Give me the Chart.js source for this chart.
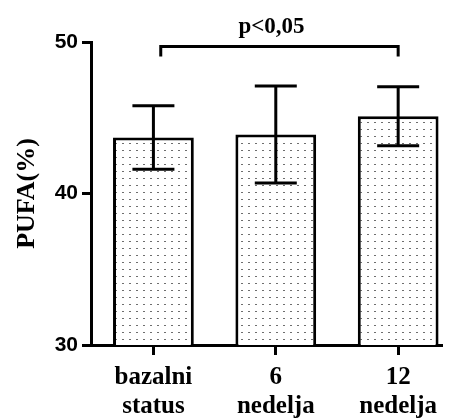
<!DOCTYPE html>
<html>
<head>
<meta charset="utf-8">
<script src="https://cdn.jsdelivr.net/npm/chart.js@4.4.1/dist/chart.umd.min.js"></script>
<style>
  html, body { margin: 0; padding: 0; background: #fff; overflow: hidden; }
  canvas { display: block; }
</style>
</head>
<body>
<canvas id="pufaChart" width="455" height="419"></canvas>
<script>
const CATEGORIES = [['bazalni', 'status'], ['6', 'nedelja'], ['12', 'nedelja']];
const PUFA_MEAN = [43.7, 43.9, 45.1];
const PUFA_SD = [2.1, 3.2, 1.95];
const Y_MIN = 30;
const Y_MAX = 50;
const Y_STEP = 10;
const SIGNIFICANCE = { from: 0, to: 2, label: 'p<0,05' };

function makeDotPattern() {
  const tile = document.createElement('canvas');
  tile.width = 7;
  tile.height = 7;
  const t = tile.getContext('2d');
  t.fillStyle = '#fff';
  t.fillRect(0, 0, 7, 7);
  t.fillStyle = '#6e6e6e';
  t.fillRect(3, 3, 2, 1);
  const ctx = document.getElementById('pufaChart').getContext('2d');
  return ctx.createPattern(tile, 'repeat');
}

// error bars + significance bracket, drawn with the chart's own scales
const errorBarsPlugin = {
  id: 'errorBars',
  afterDatasetsDraw(chart) {
    const { ctx, scales: { x, y } } = chart;
    const meta = chart.getDatasetMeta(0);
    ctx.save();
    ctx.strokeStyle = '#000';
    ctx.lineWidth = 3;
    ctx.lineCap = 'butt';
    meta.data.forEach((bar, i) => {
      const cx = bar.x;
      const top = y.getPixelForValue(PUFA_MEAN[i] + PUFA_SD[i]);
      const bottom = y.getPixelForValue(PUFA_MEAN[i] - PUFA_SD[i]);
      const half = bar.width * 0.26;
      ctx.beginPath();
      ctx.moveTo(cx, top);
      ctx.lineTo(cx, bottom);
      ctx.moveTo(cx - half, top);
      ctx.lineTo(cx + half, top);
      ctx.moveTo(cx - half, bottom);
      ctx.lineTo(cx + half, bottom);
      ctx.stroke();
    });

    const opts = chart.options.plugins.errorBars;
    const x1 = x.getPixelForValue(SIGNIFICANCE.from + opts.leftShift);
    const x2 = x.getPixelForValue(SIGNIFICANCE.to);
    const yTop = y.getPixelForValue(opts.bracketValue);
    const yEnd = y.getPixelForValue(opts.bracketValue - opts.bracketDrop);
    ctx.lineJoin = 'miter';
    ctx.beginPath();
    ctx.moveTo(x1, yEnd);
    ctx.lineTo(x1, yTop);
    ctx.lineTo(x2, yTop);
    ctx.lineTo(x2, yEnd);
    ctx.stroke();

    ctx.fillStyle = '#000';
    ctx.font = 'bold 23px "Liberation Serif", serif';
    ctx.textAlign = 'center';
    ctx.textBaseline = 'alphabetic';
    ctx.fillText(SIGNIFICANCE.label, (x1 + x2) / 2 - 8, yTop - 14);
    ctx.restore();
  },
};

const chart = new Chart(document.getElementById('pufaChart'), {
  type: 'bar',
  data: {
    datasets: [
      {
        data: PUFA_MEAN.map((v, i) => ({ x: i, y: v })),
        backgroundColor: makeDotPattern(),
        borderColor: '#000',
        borderWidth: 3,
        borderSkipped: 'start',
        barPercentage: 0.66,
        categoryPercentage: 1,
      },
    ],
  },
  options: {
    responsive: false,
    animation: false,
    layout: { padding: { top: 42, right: 14, left: 0, bottom: 0 } },
    plugins: {
      legend: { display: false },
      tooltip: { enabled: false },
      errorBars: { bracketValue: 49.7, bracketDrop: 0.65, leftShift: 0.06 },
    },
    scales: {
      x: {
        type: 'linear',
        offset: false,
        min: -0.51,
        max: 2.35,
        afterBuildTicks(scale) {
          scale.ticks = CATEGORIES.map((c, i) => ({ value: i }));
        },
        afterFit(scale) {
          scale.height = 74;
        },
        border: { color: '#000', width: 3 },
        grid: {
          offset: false,
          drawOnChartArea: false,
          drawTicks: true,
          tickLength: 10,
          color: '#000',
          lineWidth: 3,
        },
        ticks: {
          autoSkip: false,
          maxRotation: 0,
          padding: 8,
          color: '#000',
          font: { family: '"Liberation Serif", serif', size: 25, weight: 'bold', lineHeight: 1.15 },
          callback: (value) => CATEGORIES[value],
        },
      },
      y: {
        min: Y_MIN,
        max: Y_MAX,
        afterFit(scale) {
          scale.width = 91;
        },
        border: { color: '#000', width: 3 },
        grid: {
          drawOnChartArea: false,
          drawTicks: true,
          tickLength: 9,
          color: '#000',
          lineWidth: 3,
        },
        ticks: {
          stepSize: Y_STEP,
          padding: 4,
          color: '#000',
          font: { family: '"Liberation Sans", Arial, sans-serif', size: 21, weight: 'bold' },
        },
        title: {
          display: true,
          text: 'PUFA(%)',
          color: '#000',
          padding: { top: 12, bottom: 0 },
          font: { family: '"Liberation Serif", serif', size: 26, weight: 'bold' },
        },
      },
    },
  },
  plugins: [errorBarsPlugin],
});
</script>
</body>
</html>
